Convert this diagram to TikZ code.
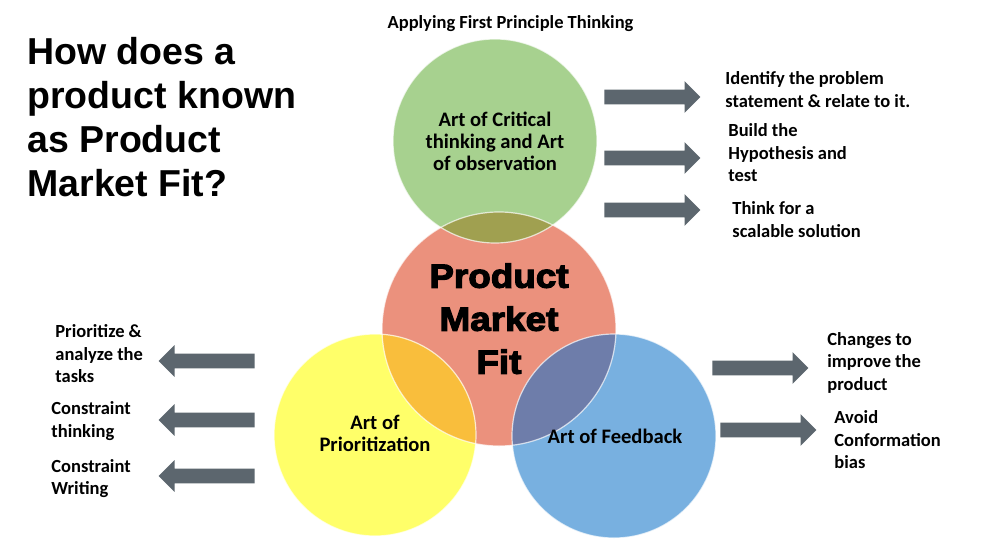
\documentclass[tikz,border=0pt]{standalone}
\usepackage{fontspec}
\setmainfont{Carlito}
\newfontfamily\titlefont{Liberation Sans}
\newfontfamily\heavyfont[FakeBold=3.5,FakeStretch=1.1]{Liberation Sans Bold}
\usetikzlibrary{positioning}
\usetikzlibrary{shapes.arrows}
\definecolor{greenc}{RGB}{167,209,143}
\definecolor{redc}{RGB}{235,145,125}
\definecolor{yellowc}{RGB}{255,255,105}
\definecolor{bluec}{RGB}{120,176,224}
\definecolor{olivec}{RGB}{160,160,80}
\definecolor{orangec}{RGB}{249,190,60}
\definecolor{slatec}{RGB}{110,125,170}
\definecolor{arrowc}{RGB}{92,102,110}

\begin{document}
\begin{tikzpicture}[x=0.5pt,y=-0.5pt,
    every node/.style={inner sep=0pt},
    sidetext/.style={anchor=west,align=left,font=\bfseries\fontsize{9.25}{11.25}\selectfont},
    circtext/.style={align=center,font=\bfseries\fontsize{10.3}{11}\selectfont},
    rim/.style={draw=white,line width=0.6pt,draw opacity=0.7},
    blockarrow/.style={single arrow,fill=arrowc,anchor=tail,minimum height=48pt,
      text height=3.5pt,text depth=3.5pt,single arrow head extend=4.25pt,
      single arrow head indent=0pt}]
      \useasboundingbox[fill=white] (0,0) rectangle (992,558);

      \coordinate (cg) at (495,141);
      \coordinate (cr) at (499,329);
      \coordinate (cy) at (375,435);
      \coordinate (cb) at (614,436);

      % circles
      \fill[redc] (cr) circle (117);
      \fill[greenc] (cg) circle (102);
      \fill[yellowc] (cy) circle (101);
      \fill[bluec] (cb) circle (102);

      % overlaps
      \begin{scope}
        \clip (cr) circle (117);
        \fill[olivec] (cg) circle (102);
        \fill[orangec] (cy) circle (101);
        \fill[slatec] (cb) circle (102);
      \end{scope}

      \draw[rim] (cr) circle (117);
      \draw[rim] (cg) circle (102);
      \draw[rim] (cy) circle (101);
      \draw[rim] (cb) circle (102);

      % circle texts
      \node[circtext] (green) at (cg) {Art of Critical\\thinking and Art\\of observation};
      \node[anchor=north,align=center,font=\heavyfont\fontsize{16.75}{21.5}\selectfont]
        (pmf) at (499,263) {Product\\Market\\Fit};
      \node[circtext] (yellow) at (375,433) {Art of\\Prioritization};
      \node[circtext] (blue) at (615,436) {Art of Feedback};

      \node[font=\bfseries\fontsize{9.25}{11.25}\selectfont] (head) at (510.5,24)
        {Applying First Principle Thinking};
      \node[anchor=north west,align=left,font=\titlefont\bfseries\fontsize{18.75}{22}\selectfont]
        (title) at (27,37) {How does a\\product known\\as Product\\Market Fit?};

      % arrows
      \node[blockarrow] (ar1) at (604,97) {};
      \node[blockarrow] (ar2) at (604,158) {};
      \node[blockarrow] (ar3) at (604,210) {};
      \node[blockarrow,shape border rotate=180] (al1) at (255,361) {};
      \node[blockarrow,shape border rotate=180] (al2) at (255,420) {};
      \node[blockarrow,shape border rotate=180] (al3) at (255,476) {};
      \node[blockarrow] (ab1) at (712,368) {};
      \node[blockarrow] (ab2) at (720,430) {};

      % side texts
      \node[sidetext] (tr1) at (725,89.5) {Identify the problem\\statement \& relate to it.};
      \node[sidetext] (tr2) at (728,153) {Build the\\Hypothesis and\\test};
      \node[sidetext] (tr3) at (732,219.5) {Think for a\\scalable solution};
      \node[sidetext] (tl1) at (55,353.6) {Prioritize \&\\analyze the\\tasks};
      \node[sidetext] (tl2) at (51,421) {Constraint\\thinking};
      \node[sidetext] (tl3) at (51,478.5) {Constraint\\Writing};
      \node[sidetext] (tb1) at (827,362.5) {Changes to\\improve the\\product};
      \node[sidetext] (tb2) at (834,439.6) {Avoid\\Conformation\\bias};
\end{tikzpicture}
\end{document}
